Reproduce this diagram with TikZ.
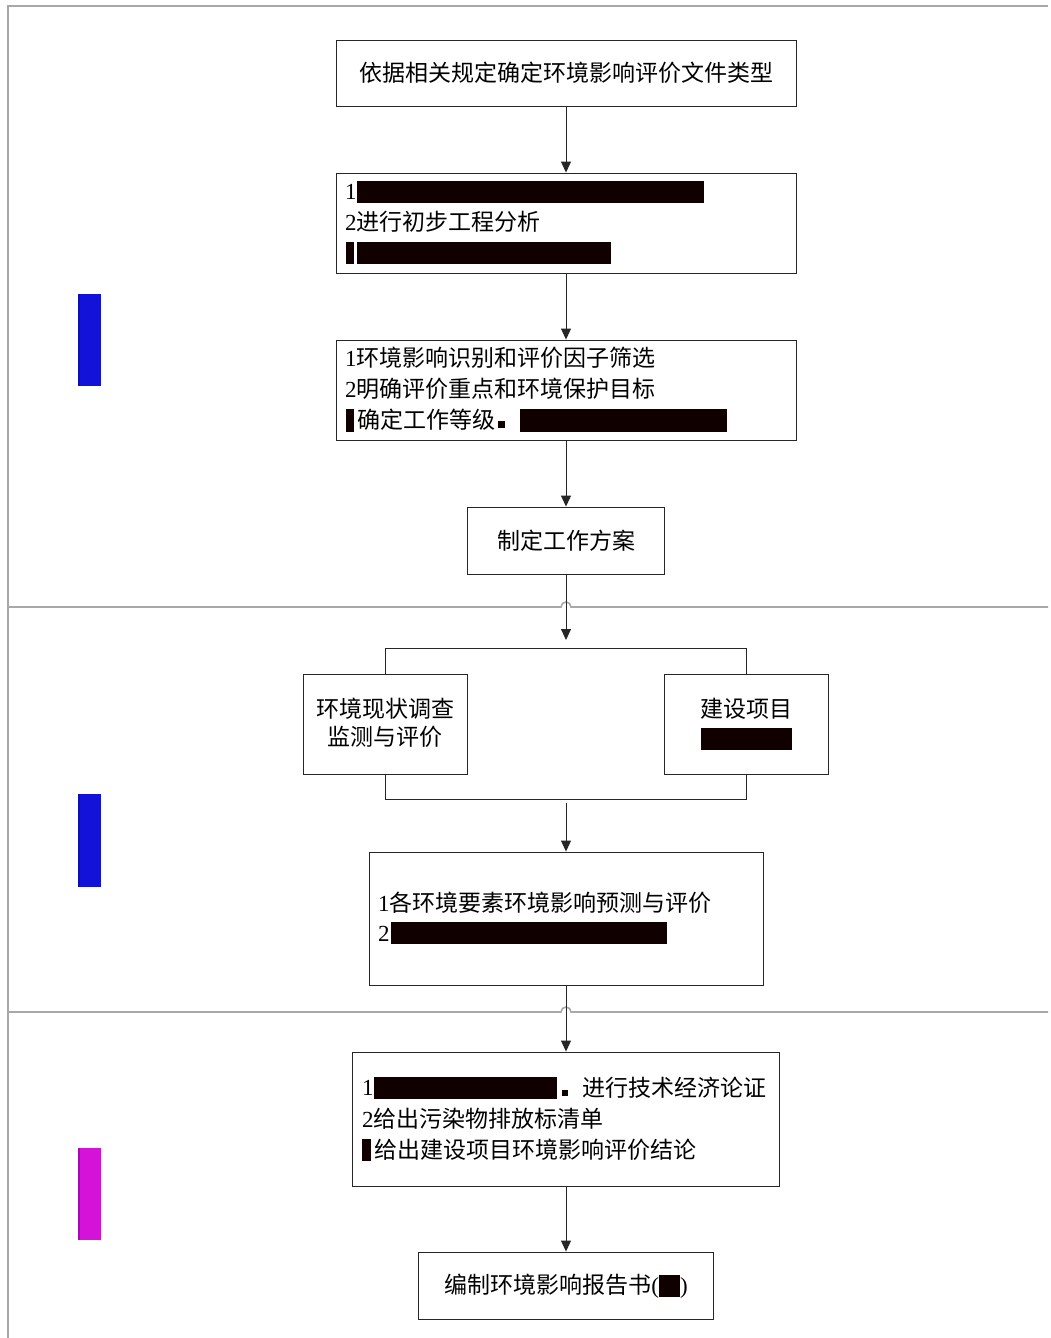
\documentclass[tikz,border=0pt]{standalone}
\usepackage{fontspec}
\setmainfont{Liberation Serif}
\newfontfamily\cjk{Noto Sans CJK SC}
\newcommand\zh[1]{{\cjk #1}}
\usetikzlibrary{arrows.meta}
\definecolor{barc}{HTML}{100000}
\definecolor{frameg}{HTML}{A8A8A8}
\definecolor{tagblue}{HTML}{1212D8}
\definecolor{tagblued}{HTML}{0E0EA8}
\definecolor{tagmag}{HTML}{D412D8}
\definecolor{tagmagd}{HTML}{A00EA8}
\tikzset{
  box/.style={draw=black!85, line width=0.9pt, fill=white, inner sep=0pt},
  frameline/.style={draw=frameg, line width=1.6pt},
  conn/.style={draw=black!85, line width=0.9pt, -{Triangle[length=11pt,width=10pt]}},
  link/.style={draw=black!85, line width=0.9pt},
  txt/.style={anchor=west, inner sep=0pt, font=\fontsize{23pt}{28pt}\selectfont},
  ctxt/.style={inner sep=0pt, font=\fontsize{23pt}{28pt}\selectfont, align=center},
  redact/.style={fill=barc},
}
\begin{document}
\begin{tikzpicture}[x=1pt,y=1pt]
\useasboundingbox (0,0) rectangle (1051,-1338);
% frame
\draw[frameline] (1048,-6) -- (8,-6) -- (8,-1338);
\draw[frameline] (8,-607) -- (561,-607) arc (180:0:5) -- (1048,-607);
\draw[frameline] (8,-1012) -- (561,-1012) arc (180:0:5) -- (1048,-1012);
% side tags
\fill[tagblue] (78,-294) rectangle (101,-386);
\fill[tagblued] (78,-294) rectangle (80,-386);
\fill[tagblue] (78,-794) rectangle (101,-887);
\fill[tagblued] (78,-794) rectangle (80,-887);
\fill[tagmag] (78,-1148) rectangle (101,-1240);
\fill[tagmagd] (78,-1148) rectangle (80,-1240);
% boxes
\node[box, minimum width=460pt, minimum height=66pt] (b1) at (566,-73) {};
\node[box, minimum width=460pt, minimum height=100pt] (b2) at (566,-223) {};
\node[box, minimum width=460pt, minimum height=100pt] (b3) at (566,-390) {};
\node[box, minimum width=197pt, minimum height=67pt] (b4) at (566,-540.5) {};
\node[box, minimum width=164pt, minimum height=100pt] (bl) at (385,-724) {};
\node[box, minimum width=164pt, minimum height=100pt] (br) at (746,-724) {};
\node[box, minimum width=394pt, minimum height=133pt] (b6) at (566,-918.5) {};
\node[box, minimum width=427pt, minimum height=134pt] (b7) at (566,-1119) {};
\node[box, minimum width=295pt, minimum height=67pt] (b8) at (566,-1285.5) {};
% texts
\node[ctxt] (t1) at (566,-73) {\zh{依据相关规定确定环境影响评价文件类型}};
% box 2
\node[txt] (t21) at (345,-192) {1};
\fill[redact] (357,-181) rectangle (704,-203);
\node[txt] (t22) at (345,-222) {2\zh{进行初步工程分析}};
\fill[redact] (346,-242) rectangle (354,-264);
\fill[redact] (357,-242) rectangle (611,-264);
% box 3
\node[txt] (t31) at (345,-358) {1\zh{环境影响识别和评价因子筛选}};
\node[txt] (t32) at (345,-389) {2\zh{明确评价重点和环境保护目标}};
\fill[redact] (346,-409) rectangle (354,-432);
\node[txt] (t33) at (357,-420) {\zh{确定工作等级}};
\fill[redact] (498,-421) rectangle (505,-428);
\fill[redact] (520,-409) rectangle (727,-432);
% box 4
\node[ctxt] (t4) at (566,-540.5) {\zh{制定工作方案}};
% side boxes
\node[ctxt] (tl) at (385,-723) {\zh{环境现状调查}\\\zh{监测与评价}};
\node[ctxt] (tr) at (746,-709) {\zh{建设项目}};
\fill[redact] (701,-728) rectangle (792,-750);
% box 6
\node[txt] (t61) at (378,-903) {1\zh{各环境要素环境影响预测与评价}};
\node[txt] (t62) at (378,-934) {2};
\fill[redact] (391,-922) rectangle (667,-944);
% box 7
\node[txt] (t71) at (362,-1088) {1};
\fill[redact] (374,-1077) rectangle (557,-1099);
\fill[redact] (562,-1090) rectangle (568,-1096);
\node[txt] (t71b) at (582,-1088) {\zh{进行技术经济论证}};
\node[txt] (t72) at (362,-1119) {2\zh{给出污染物排放标清单}};
\fill[redact] (362,-1139) rectangle (371,-1161);
\node[txt] (t73) at (374,-1150) {\zh{给出建设项目环境影响评价结论}};
% box 8
\node[ctxt] (t8) at (566,-1286) {\zh{编制环境影响报告书}(\textcolor{barc}{\rule[-4pt]{21pt}{22pt}})};
% connectors
\coordinate (c1) at (566,-640);
\coordinate (c2) at (566,-803);
\draw[conn] (b1.south) -- (b2.north);
\draw[conn] (b2.south) -- (b3.north);
\draw[conn] (b3.south) -- (b4.north);
\draw[conn] (b4.south) -- (c1);
\draw[link] (bl.north) -- ++(0,25) -| (br.north);
\draw[link] (bl.south) -- ++(0,-25) -| (br.south);
\draw[conn] (c2) -- (b6.north);
\draw[conn] (b6.south) -- (b7.north);
\draw[conn] (b7.south) -- (b8.north);
\end{tikzpicture}
\end{document}
